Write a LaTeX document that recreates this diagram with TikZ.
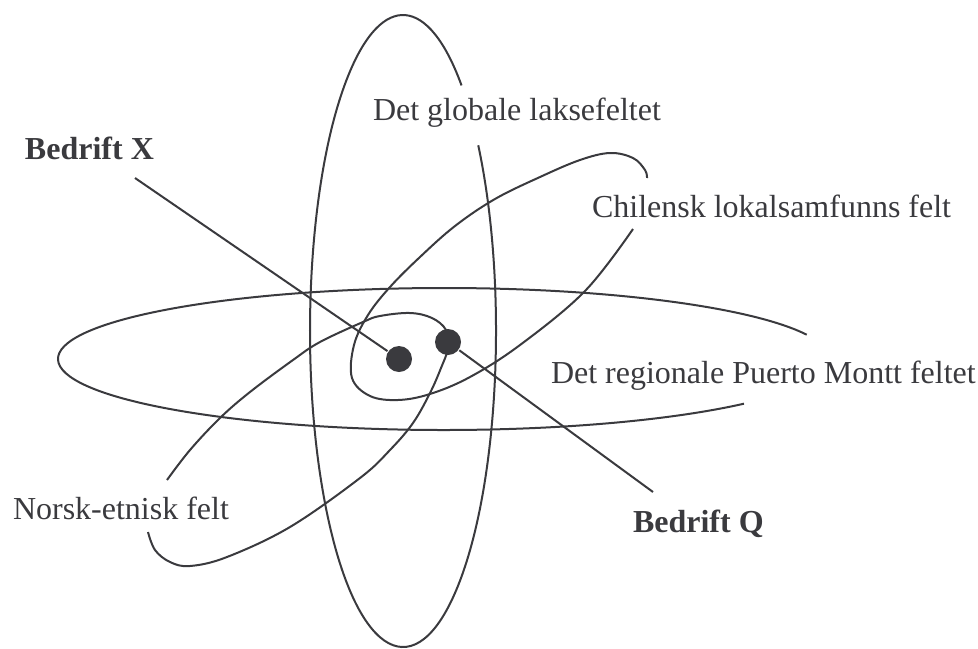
\documentclass[tikz,border=0pt]{standalone}
\usepackage{fontspec}
\setmainfont{Liberation Serif}
\definecolor{ink}{RGB}{58,58,62}
\tikzset{
  field/.style={line width=1pt},
  lbl/.style={anchor=base west, inner sep=0pt},
  firm/.style={lbl, font=\fontsize{16}{19}\selectfont\bfseries},
  dot/.style={circle, fill, inner sep=0pt, minimum size=13pt}
}
\begin{document}
\begin{tikzpicture}[x=0.5pt, y=-0.5pt, color=ink, line width=1pt, font=\fontsize{16}{19}\selectfont]
\useasboundingbox (0,0) rectangle (978,648);
% global field, upright
\draw[field] (403,331) ++(-36:93 and 316) arc[start angle=-36, end angle=309, x radius=93, y radius=316];
% regional field, flat
\draw[field] (444,359) ++(39:386 and 71) arc[start angle=39, end angle=340, x radius=386, y radius=71];
% chilean local field
\draw[field] plot[smooth, tension=0.6] coordinates {(633,229) (585,291) (520,345) (470,377) (430,394) (398,400) (370,396) (352,378) (354,345) (368,315) (390,287) (420,257) (455,226) (495,199) (540,177) (580,160) (610,153) (633,158) (645,170) (647,178)};
% norwegian ethnic field
\draw[field] plot[smooth, tension=0.6] coordinates {(148,532) (155,550) (170,562) (190,566) (227,557) (290,527) (360,478) (390,450) (413,423) (430,393) (441,368) (448,348) (446,330) (432,318) (410,313) (380,316) (363,322) (320,342) (293,360) (250,392) (220,418) (190,450) (167,480)};
% labels
\node[lbl] (glob) at (372,120) {Det globale laksefeltet};
\node[lbl] (chil) at (591,217) {Chilensk lokalsamfunns felt};
\node[lbl] (regi) at (550,383) {Det regionale Puerto Montt feltet};
\node[lbl] (nors) at (12,519) {Norsk-etnisk felt};
\node[firm] (firmx) at (24,159) {Bedrift X};
\node[firm] (firmq) at (632,532) {Bedrift Q};
% the two firms
\node[dot] (xdot) at (399,359) {};
\node[dot] (qdot) at (448,342) {};
\coordinate (xend) at (135,178);
\coordinate (qend) at (653,492);
\draw (xend) -- (xdot);
\draw (qdot) -- (qend);
\end{tikzpicture}
\end{document}
